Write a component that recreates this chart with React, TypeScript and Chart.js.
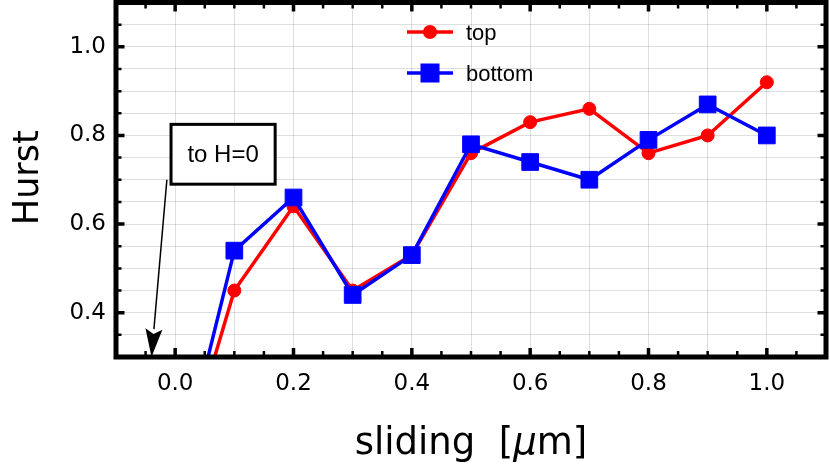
import React, { useEffect, useRef } from 'react';
import { Chart, registerables } from 'chart.js';

Chart.register(...registerables);

// sliding distance [µm] and Hurst exponents
const sliding = [0, 0.1, 0.2, 0.3, 0.4, 0.5, 0.6, 0.7, 0.8, 0.9, 1.0];
const hurstTop = [0, 0.45, 0.64, 0.45, 0.53, 0.76, 0.83, 0.86, 0.76, 0.8, 0.92];
const hurstBottom = [0, 0.54, 0.66, 0.44, 0.53, 0.78, 0.74, 0.7, 0.79, 0.87, 0.8];

// labelled ticks
const xTickLabels = [0, 0.2, 0.4, 0.6, 0.8, 1.0];
const yTickLabels = [0.4, 0.6, 0.8, 1.0];

// "to H=0" note, in data units
const noteText = 'to H=0';
const noteBox = [-0.007, 0.825, 0.169, 0.69];
const arrowFrom = [-0.014, 0.7];
const arrowTo = [-0.04, 0.3];

const near = (list: number[], v: number) => list.some((t) => Math.abs(t - v) < 1e-6);

const decorations = {
  id: 'decorations',
  afterDatasetsDraw(chart: any) {
    const { ctx } = chart;
    const xs = chart.scales.x;
    const ys = chart.scales.y;

    // note box + arrow
    const bx0 = xs.getPixelForValue(noteBox[0]);
    const by0 = ys.getPixelForValue(noteBox[1]);
    const bx1 = xs.getPixelForValue(noteBox[2]);
    const by1 = ys.getPixelForValue(noteBox[3]);
    ctx.save();
    ctx.fillStyle = '#fff';
    ctx.fillRect(bx0, by0, bx1 - bx0, by1 - by0);
    ctx.lineWidth = 3;
    ctx.strokeStyle = '#000';
    ctx.strokeRect(bx0, by0, bx1 - bx0, by1 - by0);
    ctx.fillStyle = '#000';
    ctx.font = '24px "Liberation Sans", Arial, sans-serif';
    ctx.textAlign = 'center';
    ctx.textBaseline = 'middle';
    ctx.fillText(noteText, (bx0 + bx1) / 2, (by0 + by1) / 2 + 1);

    const ax0 = xs.getPixelForValue(arrowFrom[0]);
    const ay0 = ys.getPixelForValue(arrowFrom[1]);
    const ax1 = xs.getPixelForValue(arrowTo[0]);
    const ay1 = ys.getPixelForValue(arrowTo[1]);
    const ang = Math.atan2(ay1 - ay0, ax1 - ax0);
    const headLen = 28;
    const headHalf = 8.5;
    const hx = ax1 - headLen * Math.cos(ang);
    const hy = ay1 - headLen * Math.sin(ang);
    ctx.lineWidth = 1.5;
    ctx.beginPath();
    ctx.moveTo(ax0, ay0);
    ctx.lineTo(hx, hy);
    ctx.stroke();
    ctx.beginPath();
    ctx.moveTo(ax1, ay1);
    ctx.lineTo(hx + headHalf * Math.sin(ang), hy - headHalf * Math.cos(ang));
    ctx.lineTo(ax1 - (headLen - 5) * Math.cos(ang), ay1 - (headLen - 5) * Math.sin(ang));
    ctx.lineTo(hx - headHalf * Math.sin(ang), hy + headHalf * Math.cos(ang));
    ctx.closePath();
    ctx.fill();
    ctx.restore();
  },
  afterDraw(chart: any) {
    const { ctx, chartArea: a } = chart;
    const xs = chart.scales.x;
    const ys = chart.scales.y;
    ctx.save();
    ctx.strokeStyle = '#000';

    // inward ticks on all four sides
    for (let i = -1; i <= 21; i++) {
      const major = i >= 0 && i % 4 === 0;
      const px = xs.getPixelForValue(i * 0.05);
      const len = major ? 9 : 6;
      ctx.lineWidth = major ? 3.5 : 2.5;
      ctx.beginPath();
      ctx.moveTo(px, a.bottom);
      ctx.lineTo(px, a.bottom - len);
      ctx.moveTo(px, a.top);
      ctx.lineTo(px, a.top + len);
      ctx.stroke();
    }
    for (let i = 7; i <= 21; i++) {
      const major = i % 4 === 0;
      const py = ys.getPixelForValue(i * 0.05);
      const len = major ? 8.5 : 5.5;
      ctx.lineWidth = major ? 3.5 : 2.5;
      ctx.beginPath();
      ctx.moveTo(a.left, py);
      ctx.lineTo(a.left + len, py);
      ctx.moveTo(a.right, py);
      ctx.lineTo(a.right - len, py);
      ctx.stroke();
    }

    // frame
    ctx.lineWidth = 5;
    ctx.strokeRect(a.left, a.top, a.right - a.left, a.bottom - a.top);

    // legend
    const lx = a.left + 291;
    const rows = [
      { y: a.top + 29.5, color: '#ff0000', label: 'top', square: false },
      { y: a.top + 70.5, color: '#0000ff', label: 'bottom', square: true },
    ];
    rows.forEach((r) => {
      ctx.strokeStyle = r.color;
      ctx.fillStyle = r.color;
      ctx.lineWidth = 3.5;
      ctx.beginPath();
      ctx.moveTo(lx, r.y);
      ctx.lineTo(lx + 46, r.y);
      ctx.stroke();
      if (r.square) {
        ctx.fillRect(lx + 23 - 9.5, r.y - 9.5, 19, 19);
      } else {
        ctx.beginPath();
        ctx.arc(lx + 23, r.y, 7, 0, Math.PI * 2);
        ctx.fill();
      }
      ctx.fillStyle = '#000';
      ctx.font = '22px "Liberation Sans", Arial, sans-serif';
      ctx.textAlign = 'left';
      ctx.textBaseline = 'alphabetic';
      ctx.fillText(r.label, lx + 59, r.y + 7.5);
    });

    // axis titles
    ctx.fillStyle = '#000';
    const normal = '37px "DejaVu Sans", sans-serif';
    const italic = 'italic 37px "DejaVu Sans", sans-serif';
    const parts = [
      { t: 'sliding  [', f: normal },
      { t: 'μ', f: italic },
      { t: 'm]', f: normal },
    ];
    let total = 0;
    parts.forEach((p) => {
      ctx.font = p.f;
      total += ctx.measureText(p.t).width;
    });
    let cx = (a.left + a.right) / 2 - total / 2;
    ctx.textAlign = 'left';
    ctx.textBaseline = 'alphabetic';
    parts.forEach((p) => {
      ctx.font = p.f;
      ctx.fillText(p.t, cx, 454);
      cx += ctx.measureText(p.t).width;
    });

    ctx.translate(38, (a.top + a.bottom) / 2 - 2);
    ctx.rotate(-Math.PI / 2);
    ctx.font = '35px "DejaVu Sans", sans-serif';
    ctx.textAlign = 'center';
    ctx.fillText('Hurst', 0, 0);
    ctx.restore();
  },
};

const App: React.FC = () => {
  const canvasRef = useRef<HTMLCanvasElement | null>(null);
  const chartRef = useRef<Chart | null>(null);

  useEffect(() => {
    document.body.style.margin = '0';
    const canvas = canvasRef.current;
    if (!canvas) return;

    const tickFont = { family: '"DejaVu Sans", sans-serif', size: 23 };

    chartRef.current = new Chart(canvas, {
      type: 'line',
      data: {
        datasets: [
          {
            label: 'top',
            data: sliding.map((x, i) => ({ x, y: hurstTop[i] })),
            borderColor: '#ff0000',
            backgroundColor: '#ff0000',
            borderWidth: 3.5,
            pointStyle: 'circle',
            pointRadius: 6.5,
            pointBorderWidth: 1,
            tension: 0,
            order: 1,
          },
          {
            label: 'bottom',
            data: sliding.map((x, i) => ({ x, y: hurstBottom[i] })),
            borderColor: '#0000ff',
            backgroundColor: '#0000ff',
            borderWidth: 3.5,
            pointStyle: 'rect',
            pointRadius: 11.8,
            pointBorderWidth: 1,
            tension: 0,
            order: 0,
          },
        ],
      },
      options: {
        animation: false,
        responsive: true,
        maintainAspectRatio: false,
        layout: { autoPadding: false, padding: { top: 2.5, right: 4, left: 0, bottom: 0 } },
        plugins: {
          legend: { display: false },
          tooltip: { enabled: false },
        },
        scales: {
          x: {
            type: 'linear',
            min: -0.1,
            max: 1.1,
            border: { display: false },
            grid: { color: 'rgba(0,0,0,0.13)', lineWidth: 1, drawTicks: false },
            ticks: {
              stepSize: 0.1,
              autoSkip: false,
              maxRotation: 0,
              padding: 13,
              color: '#000',
              font: tickFont,
              callback: (v: any) => (near(xTickLabels, Number(v)) ? Number(v).toFixed(1) : ''),
            },
            afterFit: (s: any) => {
              s.height = 109;
              s.paddingLeft = 0;
              s.paddingRight = 0;
            },
          },
          y: {
            type: 'linear',
            min: 0.3,
            max: 1.1,
            border: { display: false },
            grid: { color: 'rgba(0,0,0,0.13)', lineWidth: 1, drawTicks: false },
            ticks: {
              stepSize: 0.05,
              autoSkip: false,
              padding: 10,
              color: '#000',
              font: tickFont,
              callback: (v: any) => (near(yTickLabels, Number(v)) ? Number(v).toFixed(1) : ''),
            },
            afterFit: (s: any) => {
              s.width = 116;
              s.paddingTop = 0;
              s.paddingBottom = 0;
            },
          },
        },
      },
      plugins: [decorations],
    });

    return () => {
      if (chartRef.current) {
        chartRef.current.destroy();
        chartRef.current = null;
      }
    };
  }, []);

  return (
    <div style={{ width: 830, height: 466, position: 'relative', background: '#fff' }}>
      <canvas ref={canvasRef} />
    </div>
  );
};

export default App;
